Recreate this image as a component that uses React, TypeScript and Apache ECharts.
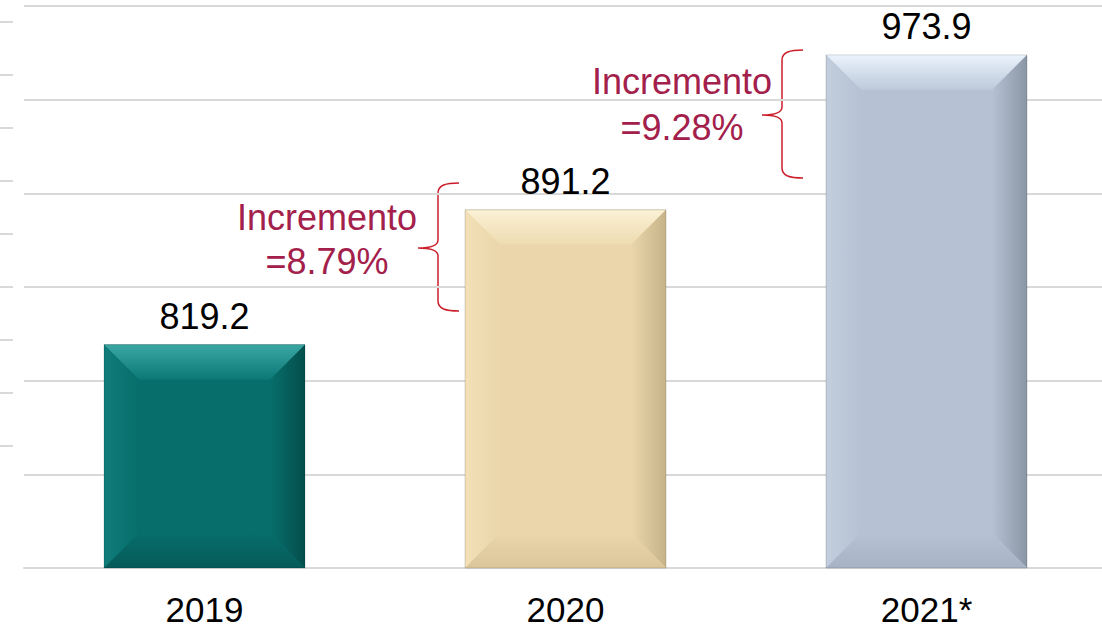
import React, { useEffect, useRef } from "react";
import * as echarts from "echarts";

// ---- data ----
const categories = ["2019", "2020", "2021*"];
const values = [819.2, 891.2, 973.9];
const incrementLabel = "Incremento";
const incrementValues = ["=8.79%", "=9.28%"];

const AXIS_MIN = 700;
const AXIS_MAX = 1000;
const AXIS_STEP = 50;

const PALETTES = [
  { main: "#076e6b", topHi: "#3aa7a4", topLo: "#0b7875", leftHi: "#0f7d7a", rightLo: "#044e4c", bottomLo: "#055a58" },
  { main: "#ead6aa", topHi: "#fbf1d6", topLo: "#eedbb0", leftHi: "#f3e0b7", rightLo: "#c6b389", bottomLo: "#dbc69a" },
  { main: "#b6c2d3", topHi: "#eaf3fd", topLo: "#bdc9da", leftHi: "#c2cddd", rightLo: "#8a95a5", bottomLo: "#a7b3c4" },
];

const BRACE_D =
  "M41,0 C28,0 20,2 20,10 L20,57 C20,62 14,65 0,65 C14,65 20,68 20,73 L20,118 C20,126 28,128 41,128";

let braceRegistered = false;
function registerBrace() {
  if (braceRegistered) return;
  echarts.graphic.registerShape("brace", echarts.graphic.extendPath(BRACE_D, {}) as any);
  braceRegistered = true;
}

const GRID_COLOR = "#d9d9d9";
const ANN_COLOR = "#a3204b";
const BRACE_COLOR = "#cc1f2b";
const FONT = "Liberation Sans";

export default function App() {
  const ref = useRef<HTMLDivElement>(null);

  useEffect(() => {
    if (!ref.current) return;
    registerBrace();
    const chart = echarts.init(ref.current, undefined, { renderer: "svg" });

    const lg = (x2: number, y2: number, c0: string, c1: string) =>
      new echarts.graphic.LinearGradient(0, 0, x2, y2, [
        { offset: 0, color: c0 },
        { offset: 1, color: c1 },
      ]);

    const renderItem = (params: any, api: any) => {
      const idx = api.value(0);
      const v = api.value(1);
      const top = api.coord([idx, v]);
      const base = api.coord([idx, AXIS_MIN]);
      const bw = 201;
      const l = top[0] - bw / 2;
      const r = top[0] + bw / 2;
      const t = top[1];
      const b = base[1];
      const bev = Math.min(35, (b - t) / 3);
      const p = PALETTES[idx % PALETTES.length];
      return {
        type: "group",
        children: [
          { type: "rect", shape: { x: l, y: t, width: bw, height: b - t }, style: { fill: p.main } },
          {
            type: "polygon",
            shape: { points: [[l, t], [r, t], [r - bev, t + bev], [l + bev, t + bev]] },
            style: { fill: lg(0, 1, p.topHi, p.topLo) },
          },
          {
            type: "polygon",
            shape: { points: [[l, t], [l + bev, t + bev], [l + bev, b - bev], [l, b]] },
            style: { fill: lg(1, 0, p.leftHi, p.main) },
          },
          {
            type: "polygon",
            shape: { points: [[r, t], [r, b], [r - bev, b - bev], [r - bev, t + bev]] },
            style: { fill: lg(1, 0, p.main, p.rightLo) },
          },
          {
            type: "polygon",
            shape: { points: [[l, b], [r, b], [r - bev, b - bev], [l + bev, b - bev]] },
            style: { fill: lg(0, 1, p.main, p.bottomLo) },
          },
          {
            type: "rect",
            shape: { x: l, y: t, width: bw, height: b - t },
            style: { fill: "none", stroke: "rgba(0,0,0,0.15)", lineWidth: 1 },
          },
        ],
      };
    };

    const annText = (x: number, y: number, text: string) => ({
      type: "text",
      x,
      y,
      style: {
        text,
        fill: ANN_COLOR,
        fontSize: 36,
        fontFamily: FONT,
        align: "center",
        verticalAlign: "middle",
      },
    });

    const brace = (x: number, y: number) => ({
      type: "brace",
      x,
      y,
      scaleX: 1,
      scaleY: 1,
      style: { fill: "none", stroke: BRACE_COLOR, lineWidth: 1.5 },
    });

    chart.setOption({
      animation: false,
      backgroundColor: "#ffffff",
      grid: [
        { left: 24, top: 6, width: 1083, height: 562 },
        { left: 0, top: 22, width: 13, height: 424 },
      ],
      xAxis: [
        {
          type: "category",
          gridIndex: 0,
          data: categories,
          axisLine: { show: true, lineStyle: { color: GRID_COLOR, width: 2 } },
          axisTick: { show: false },
          axisLabel: { color: "#000", fontSize: 35, fontFamily: FONT, margin: 24 },
        },
        { type: "value", gridIndex: 1, show: false, min: 0, max: 1 },
      ],
      yAxis: [
        {
          type: "value",
          gridIndex: 0,
          min: AXIS_MIN,
          max: AXIS_MAX,
          interval: AXIS_STEP,
          axisLine: { show: false },
          axisTick: { show: false },
          axisLabel: { show: false },
          splitLine: { show: true, lineStyle: { color: GRID_COLOR, width: 2 } },
        },
        {
          type: "value",
          gridIndex: 1,
          min: 0,
          max: 8,
          interval: 1,
          axisLine: { show: false },
          axisTick: { show: false },
          axisLabel: { show: false },
          splitLine: { show: true, lineStyle: { color: GRID_COLOR, width: 2 } },
        },
      ],
      series: [
        {
          type: "bar",
          xAxisIndex: 0,
          yAxisIndex: 0,
          barWidth: 201,
          z: 1,
          data: values.map((v, i) => ({ value: v, itemStyle: { color: PALETTES[i].main } })),
          label: {
            show: true,
            position: "top",
            distance: 10,
            color: "#000",
            fontSize: 36,
            fontFamily: FONT,
            formatter: (p: any) => Number(p.value).toFixed(1),
          },
        },
        {
          type: "custom",
          xAxisIndex: 0,
          yAxisIndex: 0,
          z: 2,
          renderItem,
          data: values.map((v, i) => [i, v]),
        },
      ],
      graphic: [
        annText(327, 217, incrementLabel),
        annText(327, 261, incrementValues[0]),
        brace(418, 183),
        annText(682, 81, incrementLabel),
        annText(682, 127, incrementValues[1]),
        brace(762, 50),
      ],
    });

    return () => chart.dispose();
  }, []);

  return (
    <div
      style={{
        position: "absolute",
        left: 0,
        top: 0,
        width: 1102,
        height: 632,
        overflow: "hidden",
        background: "#fff",
      }}
    >
      <div ref={ref} style={{ width: 1112, height: 632 }} />
    </div>
  );
}
